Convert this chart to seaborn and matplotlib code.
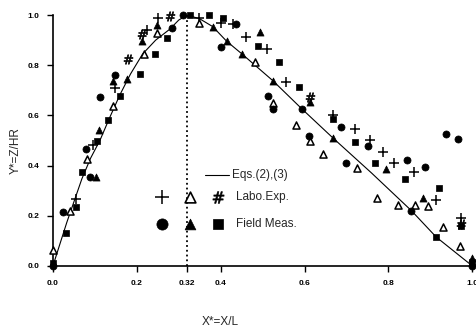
import matplotlib
matplotlib.use("Agg")
import matplotlib.pyplot as plt
import seaborn as sns
import pandas as pd

# theoretical curve, Eqs.(2),(3)
curve_x = [0.0, 0.033, 0.069, 0.09, 0.112, 0.135, 0.16, 0.185, 0.214, 0.245, 0.279, 0.30, 0.32,
           0.35, 0.381, 0.414, 0.45, 0.524, 0.593, 0.669, 0.76, 0.855, 0.914, 1.0]
curve_y = [0.0, 0.173, 0.347, 0.43, 0.50, 0.59, 0.683, 0.765, 0.845, 0.90, 0.944, 0.98, 1.0,
           0.985, 0.954, 0.896, 0.846, 0.739, 0.627, 0.508, 0.37, 0.22, 0.115, 0.0]

# Labo.Exp.
plus_x = [0.25, 0.224, 0.148, 0.095, 0.055, 0.348, 0.40, 0.429, 0.46, 0.51, 0.557, 0.667,
          0.721, 0.757, 0.786, 0.814, 0.862, 0.914, 0.974]
plus_y = [0.99, 0.94, 0.71, 0.48, 0.266, 0.99, 0.97, 0.964, 0.912, 0.865, 0.733, 0.60,
          0.547, 0.50, 0.455, 0.412, 0.375, 0.263, 0.19]

tri_open_x = [0.0, 0.04, 0.081, 0.143, 0.217, 0.248, 0.348, 0.481, 0.524, 0.579, 0.612,
              0.645, 0.726, 0.774, 0.824, 0.864, 0.895, 0.931, 0.971]
tri_open_y = [0.064, 0.217, 0.427, 0.637, 0.845, 0.93, 0.97, 0.812, 0.651, 0.563, 0.496,
              0.447, 0.391, 0.27, 0.241, 0.244, 0.237, 0.156, 0.078]

hash_x = [0.279, 0.179, 0.212, 0.614, 0.974]
hash_y = [0.995, 0.823, 0.925, 0.675, 0.165]

# Field Meas.
circle_x = [0.0, 0.024, 0.079, 0.088, 0.112, 0.148, 0.283, 0.31, 0.436, 0.402, 0.512, 0.524,
            0.593, 0.61, 0.686, 0.752, 0.70, 0.845, 0.888, 0.855, 0.938, 0.967, 1.0]
circle_y = [0.0, 0.216, 0.467, 0.355, 0.672, 0.761, 0.948, 1.0, 0.965, 0.871, 0.678, 0.627,
            0.627, 0.516, 0.553, 0.476, 0.41, 0.422, 0.396, 0.22, 0.527, 0.504, 0.0]

tri_fill_x = [0.102, 0.11, 0.143, 0.176, 0.212, 0.248, 0.381, 0.414, 0.45, 0.493, 0.524,
              0.614, 0.669, 0.795, 0.883, 1.0]
tri_fill_y = [0.356, 0.54, 0.737, 0.743, 0.895, 0.96, 0.954, 0.896, 0.846, 0.932, 0.739,
              0.652, 0.508, 0.387, 0.269, 0.03]

square_x = [0.0, 0.031, 0.055, 0.069, 0.105, 0.131, 0.16, 0.207, 0.243, 0.271, 0.326, 0.371,
            0.405, 0.49, 0.54, 0.588, 0.667, 0.721, 0.769, 0.84, 0.921, 0.914, 0.974, 1.0]
square_y = [0.01, 0.129, 0.234, 0.374, 0.496, 0.581, 0.678, 0.765, 0.846, 0.908, 1.0, 1.0,
            0.99, 0.876, 0.811, 0.714, 0.587, 0.495, 0.41, 0.346, 0.311, 0.115, 0.16, 0.015]

x_ticks = [0.0, 0.2, 0.32, 0.4, 0.6, 0.8, 1.0]
x_tick_labels = ["0.0", "0.2", "0.32", "0.4", "0.6", "0.8", "1.0"]
y_ticks = [0.0, 0.2, 0.4, 0.6, 0.8, 1.0]
y_tick_labels = ["0.0", "0.2", "0.4", "0.6", "0.8", "1.0"]

sns.set_style("ticks")
plt.rcParams['font.family'] = ['Liberation Sans', 'DejaVu Sans']

fig = plt.figure(figsize=(4.77, 3.27), dpi=100)
ax = fig.add_axes([0.111, 0.187, 0.879, 0.767])

curve = pd.DataFrame({"x": curve_x, "y": curve_y})
sns.lineplot(data=curve, x="x", y="y", sort=False, estimator=None, color="black",
             linewidth=0.8, ax=ax)

ax.plot([0.32, 0.32], [0.0, 1.0], color="black", linestyle=":", linewidth=1.3)

series = [
    (plus_x, plus_y, "+", 45, "black", 1.1),
    (tri_open_x, tri_open_y, "^", 26, "white", 1.1),
    (hash_x, hash_y, "$\\#$", 45, "black", 0.5),
    (circle_x, circle_y, "o", 26, "black", 0.5),
    (tri_fill_x, tri_fill_y, "^", 26, "black", 0.5),
    (square_x, square_y, "s", 22, "black", 0.5),
]
for xs, ys, mk, sz, fc, lw in series:
    df = pd.DataFrame({"x": xs, "y": ys})
    sns.scatterplot(data=df, x="x", y="y", marker=mk, s=sz, color=fc, edgecolor="black",
                    linewidth=lw, ax=ax, clip_on=False, zorder=3)

# legend drawn inside the plot
ax.plot([0.362, 0.421], [0.364, 0.364], color="black", linewidth=0.8)
ax.text(0.426, 0.364, "Eqs.(2),(3)", fontsize=8.5, va="center", ha="left")
legend_marks = [
    (0.26, 0.276, "+", 90, "black", 1.1),
    (0.326, 0.276, "^", 60, "white", 1.2),
    (0.393, 0.276, "$\\#$", 70, "black", 0.5),
    (0.26, 0.168, "o", 65, "black", 0.5),
    (0.326, 0.168, "^", 60, "black", 0.5),
    (0.393, 0.168, "s", 50, "black", 0.5),
]
for lx, ly, mk, sz, fc, lw in legend_marks:
    ax.scatter([lx], [ly], marker=mk, s=sz, c=fc, edgecolors="black", linewidths=lw, zorder=3)
ax.text(0.436, 0.276, "Labo.Exp.", fontsize=8.5, va="center", ha="left")
ax.text(0.436, 0.168, "Field Meas.", fontsize=8.5, va="center", ha="left")

ax.set_xlim(0, 1.0)
ax.set_ylim(0, 1.0)
ax.set_xticks(x_ticks)
ax.set_xticklabels(x_tick_labels, fontsize=6, fontweight="bold")
ax.set_yticks(y_ticks)
ax.set_yticklabels(y_tick_labels, fontsize=6, fontweight="bold")
ax.tick_params(direction="out", length=4, width=1, colors="black", pad=6)
ax.set_xlabel("X*=X/L", fontsize=8.5)
ax.set_ylabel("Y*=Z/HR", fontsize=8.5)
ax.xaxis.set_label_coords(0.40, -0.2)
ax.yaxis.set_label_coords(-0.075, 0.46)
for side in ["top", "right"]:
    ax.spines[side].set_visible(False)
for side in ["left", "bottom"]:
    ax.spines[side].set_color("black")
    ax.spines[side].set_linewidth(1.2)

fig.savefig("out.png", dpi=100)
